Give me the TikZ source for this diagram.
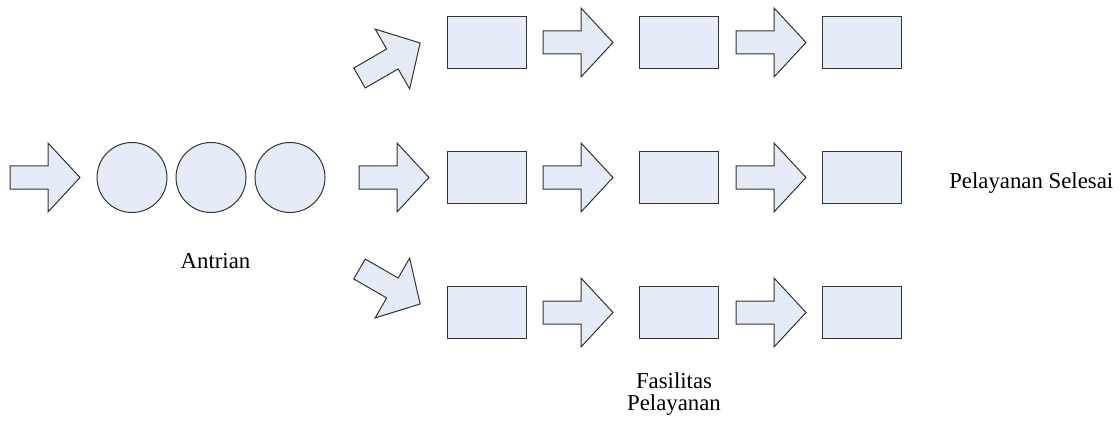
\documentclass[tikz,border=0pt]{standalone}
\usepackage{fontspec}
\setmainfont{Liberation Serif}
\newfontfamily\captionserif{Liberation Serif}
\definecolor{shapefill}{HTML}{E6ECF7}
\definecolor{shapeline}{HTML}{333333}
\tikzset{
  solidshape/.style={draw=shapeline, fill=shapefill, line width=0.75pt, line join=miter},
  stationbox/.style={solidshape, rectangle, minimum width=59.25pt, minimum height=39pt, inner sep=0pt},
  customer/.style={solidshape, circle, minimum size=52.5pt, inner sep=0pt},
  caption/.style={font=\captionserif\fontsize{17.1pt}{16.5pt}\selectfont, inner sep=0pt, align=center},
  % block arrow: tail centre at the origin, pointing along +x
  blockarrow/.pic={
    \path[solidshape] (0,-11.5) -- (38,-11.5) -- (38,-34.5) -- (70,0)
      -- (38,34.5) -- (38,11.5) -- (0,11.5) -- cycle;
  }
}
\begin{document}
\begin{tikzpicture}[x=0.75pt, y=-0.75pt]
  \useasboundingbox (0,0) rectangle (1120,424);

  % incoming customers and the queue
  \pic at (10,177.5) {blockarrow};
  \node[customer] (q1) at (132,177.5) {};
  \node[customer] (q2) at (211,177.5) {};
  \node[customer] (q3) at (290,177.5) {};
  \node[caption, anchor=base] (antrian) at (215.5,268) {Antrian};

  % routing to the three service lines
  \pic[rotate=30]  at (359.5,78)    {blockarrow};
  \pic             at (359,177.5)   {blockarrow};
  \pic[rotate=-30] at (359.5,269)   {blockarrow};

  % service lines: box, arrow, box, arrow, box
  \foreach \r/\y in {a/42.5, b/177.5, c/312.5} {
    \node[stationbox] (\r1) at (486.5,\y) {};
    \pic at (543,\y) {blockarrow};
    \node[stationbox] (\r2) at (679,\y) {};
    \pic at (736,\y) {blockarrow};
    \node[stationbox] (\r3) at (862,\y) {};
  }

  \node[caption, anchor=base] (fasilitas) at (674,410) {Fasilitas\\Pelayanan};
  \node[caption, anchor=base west] (selesai) at (949,188) {Pelayanan Selesai};
\end{tikzpicture}
\end{document}
